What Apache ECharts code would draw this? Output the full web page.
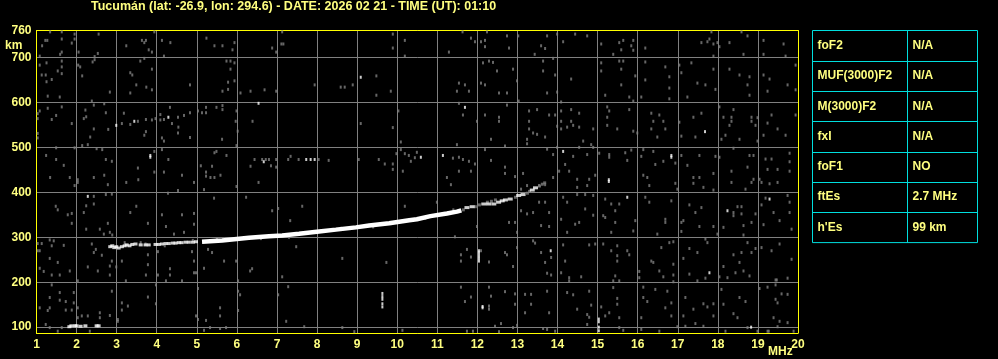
<!DOCTYPE html>
<html><head><meta charset="utf-8">
<script src="https://cdn.jsdelivr.net/npm/echarts@6/dist/echarts.min.js"></script>
<style>html,body{margin:0;padding:0;background:#000;}#c{width:998px;height:359px;}</style>
</head><body><div id="c"></div>
<script>
const titleText = 'Tucumán (lat: -26.9, lon: 294.6) - DATE: 2026 02 21 - TIME (UT): 01:10';
const paramNames = ['foF2', 'MUF(3000)F2', 'M(3000)F2', 'fxI', 'foF1', 'ftEs', "h'Es"];
const paramValues = ['N/A', 'N/A', 'N/A', 'N/A', 'NO', '2.7 MHz', '99 km'];
const freqUnit = 'MHz';
const heightUnit = 'km';
const heightLabels = [100, 200, 300, 400, 500, 600, 700, 760];

// F-region trace (dense part) [MHz, km]
const traceMain = [[5.13,290],[5.63,293],[6.3,299],[6.8,302],[7.13,304],[7.55,308],[8.05,313],[8.47,317],[8.97,322],[9.3,326],[9.8,331],[10.3,338],[10.49,340],[10.83,347],[11.24,353],[11.49,357],[11.6,360]];
const traceTail = [[11.74,366],[11.87,368],[12.16,374],[12.28,374],[12.41,374],[12.53,378],[12.62,381],[12.70,383],[12.82,385],[13.03,393],[13.14,395],[13.37,405],[13.45,410]];
const tailGray = [[12.25,378],[12.35,380],[12.45,383],[12.95,389],[13.25,398],[13.3,402],[13.55,414],[13.62,418],[13.68,421],[11.65,361],[11.95,368],[12.05,372]];
const traceDots = [[2.84,279],[2.89,281],[2.94,277],[2.99,279],[3.05,276],[3.13,279],[3.2,281],[3.25,283],[3.32,281],[3.39,284],[3.47,285],[3.6,283],[3.72,283],[3.8,283],[3.97,284],[4.05,284],[4.13,285],[4.22,286],[4.3,286],[4.4,287],[4.47,287],[4.55,288],[4.62,288],[4.72,289],[4.8,289],[4.9,289],[4.98,290]];
const esTrace = [[1.82,101],[1.87,103],[1.96,103],[2.0,103],[2.1,102],[2.22,103],[2.5,103],[2.55,103]];
const echoes = [[2.99,549],[3.44,558],[4.29,567],[6.54,598],[9.09,656],[3.84,478],[3.84,482],[6.67,468],[7.73,473],[7.84,473],[7.94,473],[11.69,589],[10.59,478],[11.14,482],[14.14,491],[16.84,478],[16.84,482],[17.68,535],[15.28,428],[15.28,424],[12.04,247],[12.04,253],[12.04,259],[12.04,265],[12.04,270],[13.83,270],[12.13,143],[12.13,146],[15.03,92],[15.03,100],[15.03,112],[15.03,118],[17.79,221],[18.24,359],[19.29,385],[18.83,100],[15.74,389],[2.28,391],[9.63,145],[9.63,152],[9.63,162],[9.63,168],[9.63,175]];
const noise = [
[1.34,757],[1.40,761],[1.63,757],[1.95,752],[1.95,741],[1.63,741],[2.55,752],[3.94,757],[7.13,757],[9.89,752],[10.19,738],[1.22,738],[1.88,732],[3.63,738],[3.73,738],[3.69,733],[4.13,738],[4.34,733],[5.24,743],[5.44,726],[5.64,726],[5.94,733],[5.89,717],[3.24,726],[2.05,712],[1.59,707],[1.63,712],[2.53,709],[2.45,702],[3.80,717],[3.88,712],[4.18,703],[1.08,703],[9.89,721],[10.19,703],[6.88,721],[6.98,712],[7.11,730],[7.16,730],[1.14,726],[1.27,738],
[1.08,683],[1.25,688],[1.63,692],[1.63,679],[1.63,664],[1.53,670],[2.04,683],[2.09,679],[2.14,659],[2.40,690],[2.45,695],[3.59,692],[3.69,698],[3.88,674],[3.34,666],[3.39,661],[1.13,661],[1.23,661],[1.38,651],[1.25,646],[3.49,639],[3.74,634],[3.88,628],[2.83,623],[3.34,621],[4.83,639],[5.74,692],[5.84,692],[5.94,688],[5.84,674],[5.78,645],[5.94,648],[5.78,629],[5.64,625],[6.09,621],[6.34,625],[6.69,628],[6.98,625],[7.94,639],[8.59,634],[8.69,634],[8.89,639],[9.48,659],[9.84,625],[9.48,616],[1.28,614],[1.58,612],
[1.28,587],[1.63,590],[2.22,583],[2.38,603],[2.43,594],[2.69,597],[2.73,577],[1.03,575],[1.08,581],[1.03,564],[1.38,562],[1.49,571],[1.88,553],[2.18,564],[2.24,568],[3.18,576],[3.13,553],[3.34,551],[3.53,558],[3.73,562],[3.88,561],[3.97,564],[4.09,573],[4.09,561],[4.18,562],[4.33,589],[4.38,553],[4.53,567],[4.54,545],[4.68,571],[4.83,577],[5.03,581],[5.13,577],[5.23,577],[5.23,589],[5.49,589],[5.64,593],[5.64,584],[5.99,581],[5.97,558],[6.02,536],[6.39,558],[10.03,581],[9.09,553],[9.89,544],[1.03,531],[1.03,521],[2.43,541],[2.79,540],[2.34,523],[2.14,504],[2.28,506],[2.50,497],[2.64,495],[2.73,473],[2.88,469],[3.69,527],[3.73,535],[4.13,521],[4.18,514],[4.53,532],[4.83,522],[5.63,518],[5.99,504],[10.09,512],
[1.49,499],[1.95,499],[1.24,482],[1.49,473],[1.68,460],[1.34,433],[1.83,433],[2.03,428],[2.43,433],[2.69,438],[3.53,454],[3.54,428],[3.94,445],[3.94,491],[4.13,495],[4.18,445],[4.29,473],[4.63,438],[5.10,459],[5.23,445],[5.38,458],[5.44,488],[5.49,491],[5.74,482],[5.23,436],[5.34,433],[5.44,433],[5.59,438],[6.34,458],[6.44,473],[6.63,473],[6.72,473],[6.80,473],[6.85,459],[6.98,473],[6.98,456],[7.28,473],[7.34,480],[7.54,473],[8.04,473],[8.29,471],[9.04,473],[9.54,473],[9.69,463],[9.89,463],[9.89,451],[10.14,447],[9.98,486],[10.09,495],[10.19,486],[10.29,482],[10.34,469],[10.44,477],[10.49,489],
[11.63,757],[11.84,743],[11.94,735],[12.09,735],[12.19,738],[12.19,724],[12.24,757],[12.74,748],[12.79,721],[13.02,761],[13.02,748],[13.20,761],[13.43,707],[13.59,726],[13.69,720],[13.64,761],[13.74,748],[13.99,752],[14.14,735],[14.44,752],[14.74,748],[15.09,730],[15.54,733],[15.59,717],[15.64,738],[15.89,738],[15.84,726],[15.89,716],[15.39,707],[16.19,721],[16.24,761],[11.29,712],[17.59,733],[17.74,735],[17.79,741],[17.84,757],[17.89,730],[17.99,733],[18.04,724],[18.29,733],[18.59,757],[18.74,748],[18.64,707],[19.14,738],[19.14,707],[19.64,730],[19.69,703],[17.89,703],
[12.14,688],[12.29,692],[12.39,689],[12.49,670],[12.89,674],[12.99,648],[13.64,692],[13.64,670],[13.89,698],[13.94,661],[14.34,652],[15.09,688],[15.09,670],[15.54,692],[15.64,692],[15.59,674],[15.94,659],[16.19,690],[16.19,650],[16.69,679],[16.79,657],[16.79,632],[17.09,666],[17.04,683],[17.34,688],[17.49,643],[17.69,639],[17.89,674],[17.94,629],[18.29,674],[18.54,661],[18.79,657],[18.74,639],[19.14,661],[19.29,652],[19.74,639],[19.94,683],[19.94,628],[11.54,643],[11.69,639],[11.49,625],[11.79,625],[12.09,643],[12.19,639],[12.54,621],[12.74,621],[13.74,621],[13.99,623],[15.19,616],[15.59,639],[15.79,612],[15.89,603],[16.09,612],[16.79,608],[17.24,612],[18.79,616],[19.24,625],
[13.03,603],[14.09,601],[11.54,598],[11.64,572],[11.99,558],[12.19,572],[12.54,567],[12.54,558],[12.74,594],[13.29,581],[13.49,584],[13.79,572],[13.94,572],[14.09,581],[14.09,558],[14.34,584],[14.34,558],[14.54,576],[14.54,545],[14.39,549],[13.99,547],[13.29,558],[13.29,541],[13.39,532],[13.49,529],[13.69,523],[14.09,541],[14.24,545],[14.89,541],[15.24,590],[15.24,567],[15.29,581],[15.24,549],[15.79,584],[15.89,536],[15.99,532],[15.49,541],[16.34,576],[16.39,558],[16.34,541],[16.54,572],[16.64,558],[16.69,541],[16.49,523],[17.04,556],[17.09,525],[17.39,567],[17.44,523],[17.59,576],[18.04,590],[18.14,567],[18.34,567],[18.39,584],[18.34,558],[18.29,549],[18.19,527],[18.84,558],[18.84,567],[18.94,549],[18.99,566],[19.24,554],[19.34,572],[19.49,541],[19.69,527],[19.94,572],[18.54,518],[19.14,527],[18.99,514],[18.09,518],
[11.49,506],[12.34,518],[12.69,503],[13.24,518],[13.24,508],[13.74,496],[13.99,500],[13.89,484],[14.39,480],[14.54,500],[14.74,484],[14.64,514],[14.84,506],[14.89,500],[15.04,487],[15.29,484],[15.29,478],[15.69,488],[15.74,471],[15.84,494],[16.09,480],[16.14,495],[16.39,491],[16.44,462],[16.64,469],[16.94,465],[17.09,482],[17.24,460],[17.54,482],[17.94,480],[18.04,478],[18.39,498],[18.79,482],[18.89,482],[19.19,474],[19.34,474],[19.79,487],[19.79,468],[11.39,476],[11.54,478],[11.64,473],[11.79,469],[11.94,463],[12.19,495],[12.34,471],[11.54,447],[11.84,447],[12.69,456],[12.69,442],[12.94,435],[13.14,442],[13.89,433],[14.04,447],[14.19,462],[14.29,447],[14.49,429],[14.79,429],[14.94,438],[16.14,438],[16.24,433],[17.39,433],[17.54,433],[17.89,442],[18.34,447],[18.74,456],[18.89,429],[19.04,429],[19.24,451],[19.49,451],[19.79,447],[11.24,433],
[1.95,415],[2.03,422],[2.78,417],[3.24,422],[4.93,422],[5.99,413],[6.54,422],[2.88,396],[2.43,391],[2.73,395],[4.28,398],[4.53,404],[5.18,406],[5.43,387],[6.23,389],[7.63,369],[10.19,369],[1.48,369],[1.53,361],[1.78,350],[1.88,353],[2.18,355],[2.24,370],[2.43,374],[3.34,355],[3.49,369],[4.13,350],[4.63,350],[4.93,353],[2.78,331],[1.88,331],[2.24,318],[2.58,318],[2.68,307],[2.83,311],[2.89,305],[3.78,331],[4.23,324],[4.43,307],[4.68,311],[4.93,329],[7.03,364],[6.88,359],[7.33,337],[1.33,294],[1.43,292],[1.03,286],[1.13,286],[1.03,270],[1.08,270],[1.68,282],[1.38,281],[2.38,285],[2.48,273],[2.63,260],[2.88,247],[3.13,247],[2.83,236],[2.99,234],[2.43,266],[3.72,285],[3.78,261],[3.78,239],[4.03,268],[4.33,230],[4.88,268],[4.93,247],[4.98,221],[5.18,231],[5.28,273],[5.38,266],[5.68,247],[5.98,247],[6.33,225],[6.38,230],[7.48,279],[8.63,253],[9.73,244],
[1.33,253],[1.53,244],[1.08,231],[1.18,224],[1.38,216],[1.58,216],[1.83,225],[2.03,203],[2.28,234],[2.53,225],[2.83,216],[3.23,203],[3.73,216],[3.98,194],[4.03,216],[4.33,216],[4.23,203],[4.63,203],[4.93,221],[5.03,186],[6.03,203],[6.03,180],[6.08,172],[7.13,212],[7.28,190],[7.03,172],[1.38,194],[1.33,166],[1.58,177],[1.58,160],[1.73,157],[1.93,177],[1.93,154],[2.03,143],[1.08,143],[1.28,137],[1.33,143],[1.73,138],[1.88,138],[2.13,125],[2.28,125],[2.58,132],[2.58,121],[2.83,126],[2.88,180],[3.03,117],[3.13,154],[3.28,147],[3.13,138],[3.78,167],[3.98,152],[4.98,125],[5.03,117],[5.23,115],[5.58,143],[5.58,125],[6.03,137],[7.23,113],[7.68,101],[8.63,99],[1.23,106],[1.33,99],[1.53,91],[1.63,99],[2.03,121],[2.33,91],[3.03,113],[5.18,93],[5.33,99],[5.58,97],[5.73,99],[8.93,90],[10.13,93],
[11.34,417],[13.09,407],[13.24,415],[13.54,415],[13.69,417],[14.49,411],[14.74,415],[16.29,415],[16.94,420],[16.99,407],[17.39,420],[17.64,411],[17.89,405],[18.34,422],[18.69,407],[18.84,422],[19.09,422],[19.29,419],[19.49,422],[19.74,393],[19.79,378],[14.14,389],[14.24,378],[14.49,395],[14.69,395],[14.89,393],[15.19,385],[15.34,374],[15.54,374],[15.44,359],[15.14,348],[15.19,344],[14.89,349],[14.69,363],[14.54,333],[14.44,329],[14.09,340],[13.79,355],[13.54,378],[13.69,378],[13.39,355],[13.24,352],[13.09,359],[12.94,333],[12.79,333],[12.99,311],[13.59,326],[13.79,324],[14.24,311],[15.34,311],[15.44,333],[15.89,314],[15.94,337],[16.19,389],[16.29,378],[16.49,307],[16.69,333],[16.69,340],[16.84,381],[17.09,333],[17.14,337],[17.09,313],[17.29,372],[17.44,355],[17.59,366],[17.54,324],[17.89,324],[17.99,307],[18.14,322],[18.39,355],[18.39,348],[18.49,368],[18.59,368],[18.59,352],[18.64,326],[18.84,333],[18.94,352],[19.09,372],[19.19,387],[19.39,355],[19.54,337],[19.79,355],[19.84,318],[19.14,328],[18.64,305],[10.99,378],[11.99,324],[11.44,301],
[11.59,261],[11.59,247],[11.74,273],[11.84,256],[12.09,270],[12.29,245],[12.69,266],[12.74,261],[12.89,235],[12.99,277],[13.39,292],[13.44,287],[13.59,266],[13.69,244],[13.74,220],[13.84,255],[13.84,216],[14.09,221],[14.14,283],[14.19,247],[14.29,210],[14.29,203],[14.59,212],[14.79,283],[14.94,285],[15.14,285],[15.34,270],[15.49,281],[15.49,259],[15.49,247],[15.44,214],[15.39,203],[15.54,203],[15.74,270],[15.79,261],[16.04,224],[16.04,210],[16.34,247],[16.39,244],[16.54,225],[16.59,277],[16.64,212],[16.79,288],[16.89,290],[16.89,240],[16.89,216],[16.89,201],[17.14,253],[17.29,275],[17.49,266],[17.69,296],[17.74,288],[18.14,235],[18.39,261],[18.54,244],[18.59,266],[18.74,288],[18.84,266],[18.94,275],[19.09,277],[19.34,270],[19.54,285],[19.84,251],[19.74,209],[18.79,214],[18.64,225],[18.44,221],[18.24,210],[17.69,209],[17.29,218],[17.49,203],[18.04,212],[19.44,205],[19.47,205],
[11.59,189],[11.84,167],[11.69,157],[12.29,189],[12.34,169],[12.29,147],[12.29,140],[12.69,179],[12.94,151],[12.94,174],[13.19,173],[13.34,173],[13.34,151],[13.19,132],[13.74,180],[13.79,132],[14.24,177],[14.39,172],[14.49,140],[14.79,180],[14.84,149],[14.74,128],[15.09,145],[15.19,125],[15.39,188],[15.49,164],[15.49,151],[15.54,121],[15.29,132],[16.14,189],[16.24,157],[16.09,121],[16.14,166],[16.44,184],[16.74,180],[16.69,143],[16.84,154],[16.84,125],[17.14,125],[17.19,166],[17.39,140],[17.44,108],[17.64,152],[17.74,145],[17.89,152],[17.89,125],[18.09,184],[18.14,151],[18.39,130],[18.49,121],[18.54,166],[18.69,157],[19.04,186],[19.24,189],[19.44,194],[19.59,174],[19.74,173],[19.44,162],[19.49,154],[19.39,121],[19.74,110],[19.54,113],[11.74,91],[11.89,91],[12.44,102],[12.59,108],[12.54,90],[12.89,99],[12.99,104],[13.64,97],[13.74,95],[13.94,91],[14.74,106],[14.79,122],[15.54,99],[15.64,93],[16.09,95],[16.54,91],[16.99,101],[17.19,102],[17.64,102],[18.19,91],[18.74,99],[18.99,91],[19.24,91],[19.27,91],[19.49,101],[19.89,91],
[3.2,288],[3.6,288],[4.2,281],[4.9,293],[5.5,296],[6.6,297],[7.3,300],[8.6,320],[9.4,323],[10.7,342],[11.4,361]
];

const YEL = '#ffff00', TXT = '#ffff80', GRID = '#808080', CYAN = '#00dede';
const FONT = '"Liberation Sans", Arial, sans-serif';

const chart = echarts.init(document.getElementById('c'), null, {renderer: 'canvas'});

const graphics = [];
graphics.push({type: 'text', left: 91, top: 0, style: {text: titleText, fill: TXT, font: 'bold 12.5px ' + FONT}});
graphics.push({type: 'text', left: 5, top: 40, style: {text: heightUnit, fill: TXT, font: 'bold 12px ' + FONT}});
graphics.push({type: 'text', left: 768, top: 346, style: {text: freqUnit, fill: TXT, font: 'bold 12px ' + FONT}});
const tx = 812.5, ty = 30.5, rowH = 30.3, col = 95, tw = 165;
graphics.push({type: 'rect', shape: {x: tx, y: ty, width: tw, height: rowH * paramNames.length}, style: {fill: 'none', stroke: CYAN, lineWidth: 1}});
graphics.push({type: 'line', shape: {x1: tx + col, y1: ty, x2: tx + col, y2: ty + rowH * paramNames.length}, style: {stroke: CYAN, lineWidth: 1}});
paramNames.forEach((n, i) => {
  if (i > 0) graphics.push({type: 'line', shape: {x1: tx, y1: Math.round(ty + i * rowH) + 0.5, x2: tx + tw, y2: Math.round(ty + i * rowH) + 0.5}, style: {stroke: CYAN, lineWidth: 1}});
  graphics.push({type: 'text', x: tx + 5, y: ty + (i + 0.5) * rowH, style: {text: n, fill: TXT, font: 'bold 12px ' + FONT, verticalAlign: 'middle'}});
  graphics.push({type: 'text', x: tx + col + 5, y: ty + (i + 0.5) * rowH, style: {text: paramValues[i], fill: TXT, font: 'bold 12px ' + FONT, verticalAlign: 'middle'}});
});

const lbl = {color: TXT, fontWeight: 'bold', fontSize: 12, fontFamily: FONT};
chart.setOption({
  backgroundColor: '#000',
  animation: false,
  grid: {left: 36.5, right: 200, top: 30.5, bottom: 26, containLabel: false},
  xAxis: [
    {type: 'value', min: 1, max: 20, interval: 1,
     axisLine: {show: true, lineStyle: {color: YEL, width: 1}}, axisTick: {show: false},
     axisLabel: Object.assign({margin: 6, showMinLabel: true, showMaxLabel: true}, lbl),
     splitLine: {show: true, lineStyle: {color: GRID, width: 1}}},
    {type: 'value', position: 'top', min: 1, max: 20, interval: 1,
     axisLine: {show: true, onZero: false, lineStyle: {color: YEL, width: 1}}, axisTick: {show: false}, axisLabel: {show: false}, splitLine: {show: false}}
  ],
  yAxis: [
    {type: 'value', min: 87, max: 760, splitNumber: 7,
     axisLine: {show: true, lineStyle: {color: YEL, width: 1}}, axisTick: {show: false},
     axisLabel: Object.assign({margin: 5, showMinLabel: true, showMaxLabel: true,
       formatter: v => heightLabels.indexOf(Math.round(v)) >= 0 ? String(Math.round(v)) : ''}, lbl),
     splitLine: {show: true, lineStyle: {color: GRID, width: 1}}},
    {type: 'value', position: 'right', min: 87, max: 760,
     axisLine: {show: true, onZero: false, lineStyle: {color: YEL, width: 1}}, axisTick: {show: false}, axisLabel: {show: false}, splitLine: {show: false}}
  ],
  graphic: graphics,
  series: [
    {type: 'scatter', name: 'noise', data: noise, symbol: 'rect', symbolSize: [2, 3], itemStyle: {color: GRID}, silent: true, z: 2},
    {type: 'scatter', name: 'tailGray', data: tailGray, symbol: 'rect', symbolSize: [3, 3], itemStyle: {color: GRID}, silent: true, z: 2},
    {type: 'line', name: 'traceMain', data: traceMain, showSymbol: false, lineStyle: {color: '#fff', width: 4.5}, silent: true, z: 3},
    {type: 'scatter', name: 'traceTail', data: traceTail, symbol: 'rect', symbolSize: [5, 3], itemStyle: {color: '#fff'}, silent: true, z: 3},
    {type: 'scatter', name: 'traceDots', data: traceDots, symbol: 'rect', symbolSize: [4, 3], itemStyle: {color: '#fff'}, silent: true, z: 3},
    {type: 'scatter', name: 'es', data: esTrace, symbol: 'rect', symbolSize: [4, 3], itemStyle: {color: '#fff'}, silent: true, z: 3},
    {type: 'scatter', name: 'echoes', data: echoes, symbol: 'rect', symbolSize: [2, 3], itemStyle: {color: '#fff'}, silent: true, z: 3}
  ]
});
</script></body></html>
